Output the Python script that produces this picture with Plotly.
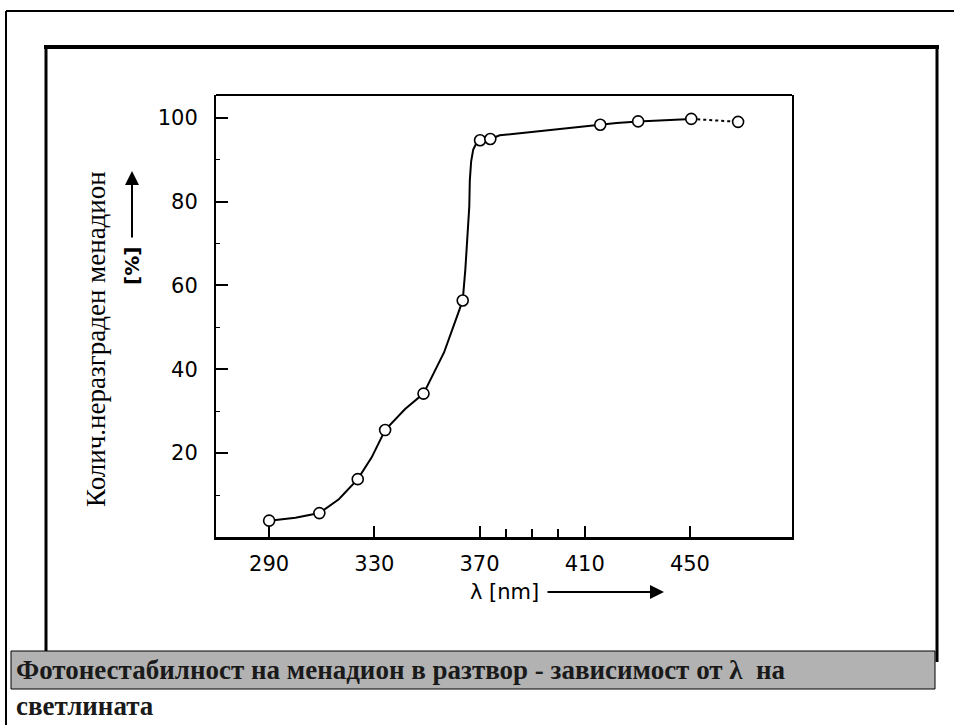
import plotly.graph_objects as go

W, H = 954, 725

# Measured points: wavelength (nm) vs. undegraded menadione (%)
wavelength = [290.0, 309.1, 323.7, 334.1, 348.7, 363.6, 370.2, 374.1, 415.9, 430.3, 450.5, 468.3]
undegraded = [3.9, 5.7, 13.8, 25.5, 34.2, 56.4, 94.6, 94.9, 98.3, 99.1, 99.7, 99.0]

# Hand-drawn trend curve through the measurements
curve_x = [290.0, 300.0, 309.1, 316.5, 323.7, 329.0, 334.1, 341.7, 348.7, 356.5, 361.1, 363.6,
           364.6, 365.5, 366.1, 366.3, 366.8, 367.6, 368.8, 370.2,
           374.1, 377.7, 405.6, 415.9, 422.1, 430.3, 436.1, 446.2, 450.5]
curve_y = [3.9, 4.6, 5.7, 9.0, 13.8, 19.0, 25.5, 30.5, 34.2, 44.0, 52.0, 56.4,
           63.8, 72.0, 78.8, 85.0, 89.5, 92.4, 93.9, 94.6,
           94.9, 95.8, 97.7, 98.3, 98.7, 99.1, 99.3, 99.5, 99.7]
tail_x = [450.5, 468.3]
tail_y = [99.7, 99.0]

x_ticks = [290, 330, 370, 410, 450]
x_minor = [380, 390, 400]
y_ticks = [20, 40, 60, 80, 100]
y_minor = [10, 30, 50, 70, 90]

caption_1 = "Фотонестабилност на менадион в разтвор - зависимост от λ  на"
caption_2 = "светлината"
y_title = "Колич.неразграден менадион"

# plot area in pixels
PL, PR, PT, PB = 216, 792, 95, 537


def px(x):
    return x / W


def py(y):
    return 1 - y / H


fig = go.Figure()
fig.add_trace(go.Scatter(x=curve_x, y=curve_y, mode="lines",
                         line=dict(color="black", width=2), hoverinfo="skip"))
fig.add_trace(go.Scatter(x=tail_x, y=tail_y, mode="lines",
                         line=dict(color="black", width=2, dash="dot"), hoverinfo="skip"))
fig.add_trace(go.Scatter(x=wavelength, y=undegraded, mode="markers",
                         marker=dict(symbol="circle", size=11, color="white",
                                     line=dict(color="black", width=1.6))))

tick_font = dict(family="DejaVu Sans", size=21, color="black")

fig.update_layout(
    width=W, height=H,
    margin=dict(l=0, r=0, t=0, b=0),
    paper_bgcolor="white", plot_bgcolor="white",
    showlegend=False,
    xaxis=dict(domain=[px(PL), px(PR)], range=[269.8, 488.8],
               showgrid=False, zeroline=False,
               showline=True, linecolor="black", linewidth=3, mirror=False,
               tickmode="array", tickvals=x_ticks, ticks="inside", ticklen=11,
               tickwidth=2, tickcolor="black", tickfont=tick_font, ticklabelstandoff=6,
               minor=dict(tickvals=x_minor, ticks="inside", ticklen=8,
                          tickwidth=1.5, tickcolor="black")),
    yaxis=dict(domain=[py(PB), py(PT)], range=[0.0, 105.4],
               showgrid=False, zeroline=False,
               showline=True, linecolor="black", linewidth=2, mirror=True,
               tickmode="array", tickvals=y_ticks, ticks="inside", ticklen=12,
               tickwidth=2, tickcolor="black", tickfont=tick_font, ticklabelstandoff=12,
               minor=dict(tickvals=y_minor, ticks="inside", ticklen=4,
                          tickwidth=1, tickcolor="black")),
)


def seg(x0, y0, x1, y1, width):
    return dict(type="line", xref="paper", yref="paper",
                x0=px(x0), y0=py(y0), x1=px(x1), y1=py(y1),
                line=dict(color="black", width=width))


shapes = [
    # outer slide frame
    seg(6, 11, 960, 11, 2),
    seg(6, 11, 6, 730, 2),
    # inner picture frame
    seg(44, 47, 939, 47, 4),
    seg(46, 46, 46, 652, 3),
    seg(937, 46, 937, 662, 3),
    # top edge of plot box
    seg(PL, PT, PR, PT, 2),
    # caption bar
    dict(type="rect", xref="paper", yref="paper",
         x0=px(11), x1=px(935), y0=py(651), y1=py(689),
         fillcolor="#b2b2b2", line=dict(color="black", width=1)),
]
fig.update_layout(shapes=shapes)

annotations = [
    dict(text="λ [nm]", x=px(505), y=py(592), xref="paper", yref="paper",
         showarrow=False, xanchor="center", yanchor="middle",
         font=dict(family="DejaVu Sans", size=21, color="black")),
    dict(text="", x=px(664), y=py(592), xref="paper", yref="paper",
         ax=-118, ay=0, showarrow=True, arrowhead=2, arrowsize=1.4,
         arrowwidth=2, arrowcolor="black"),
    dict(text="<b>[%]</b>", x=px(132), y=py(266), xref="paper", yref="paper",
         showarrow=False, textangle=-90, xanchor="center", yanchor="middle",
         font=dict(family="DejaVu Sans", size=20, color="black")),
    dict(text="", x=px(132), y=py(171), xref="paper", yref="paper",
         ax=0, ay=68, showarrow=True, arrowhead=2, arrowsize=1.4,
         arrowwidth=2, arrowcolor="black"),
    dict(text=y_title, x=px(96), y=py(339), xref="paper", yref="paper",
         showarrow=False, textangle=-90, xanchor="center", yanchor="middle",
         font=dict(family="Liberation Serif", size=27, color="black")),
    dict(text="<b>" + caption_1 + "</b>", x=px(14), y=py(670), xref="paper", yref="paper",
         showarrow=False, xanchor="left", yanchor="middle",
         font=dict(family="Liberation Serif", size=27, color="#1a1a1a")),
    dict(text="<b>" + caption_2 + "</b>", x=px(14), y=py(706), xref="paper", yref="paper",
         showarrow=False, xanchor="left", yanchor="middle",
         font=dict(family="Liberation Serif", size=27, color="#1a1a1a")),
]
fig.update_layout(annotations=annotations)

fig.write_html("out.html")
